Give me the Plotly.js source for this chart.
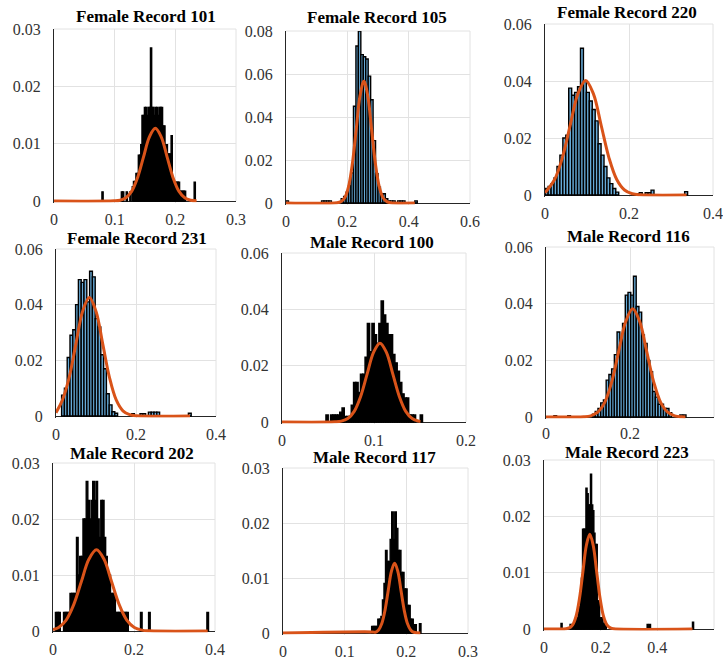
<!DOCTYPE html>
<html><head><meta charset="utf-8">
<script src="https://cdn.plot.ly/plotly-3.0.1.min.js"></script>
<style>html,body{margin:0;padding:0;background:#fff;} #chart{width:723px;height:663px;}</style>
</head><body><div id="chart"></div>
<script>
// ---------- DATA ----------
const titles = ["Female Record 101","Female Record 105","Female Record 220",
                "Female Record 231","Male Record 100","Male Record 116",
                "Male Record 202","Male Record 117","Male Record 223"];

const xMax  = [0.3, 0.6, 0.4, 0.4, 0.2, 0.4, 0.4, 0.3, 0.6];
const yMax  = [0.03, 0.08, 0.06, 0.06, 0.06, 0.06, 0.03, 0.03, 0.03];
const xStep = [0.1, 0.2, 0.2, 0.2, 0.1, 0.2, 0.2, 0.1, 0.2];
const yStep = [0.01, 0.02, 0.02, 0.02, 0.02, 0.02, 0.01, 0.01, 0.01];
const binWidth = [0.002, 0.008, 0.007, 0.007, 0.0025, 0.0065, 0.004, 0.0025, 0.004];

// Female Record 101
const binsF101 = [0.080,0.112,0.114,0.120,0.126,0.130,0.132,0.134,0.136,0.138,0.140,0.142,0.144,0.146,0.148,0.150,0.152,0.154,0.156,0.158,0.160,0.162,0.164,0.166,0.168,0.170,0.172,0.174,0.176,0.178,0.180,0.182,0.184,0.186,0.188,0.190,0.192,0.194,0.196,0.198,0.200,0.202,0.204,0.206,0.208,0.210,0.212,0.214,0.216,0.232];
const probF101 = [0.0016,0.0016,0.0016,0.0016,0.0016,0.0025,0.0034,0.0034,0.0048,0.0048,0.0080,0.0080,0.0098,0.0149,0.0149,0.0163,0.0163,0.0149,0.0163,0.0163,0.0267,0.0163,0.0163,0.0149,0.0163,0.0163,0.0149,0.0163,0.0163,0.0163,0.0131,0.0131,0.0098,0.0098,0.0082,0.0082,0.0082,0.0114,0.0033,0.0033,0.0033,0.0033,0.0033,0.0033,0.0017,0.0017,0.0017,0.0017,0.0017,0.0033];
const fitXF101 = [0,0.0991,0.1088,0.1185,0.1282,0.1379,0.1476,0.1573,0.167,0.1767,0.1864,0.1961,0.2058,0.2155,0.2252,0.235];
const fitYF101 = [0,0.00003,0.00014,0.00056,0.00172,0.00412,0.0077,0.0112,0.0127,0.0112,0.0077,0.00412,0.00172,0.00056,0.00014,0.00003];

// Female Record 105
const binsF105 = [0.004,0.120,0.128,0.136,0.144,0.184,0.192,0.200,0.208,0.216,0.224,0.232,0.240,0.248,0.256,0.264,0.272,0.280,0.288,0.296,0.304,0.312,0.320,0.328,0.336,0.344,0.352,0.368,0.376,0.384,0.424];
const probF105 = [0.001,0.001,0.001,0.001,0.001,0.002,0.003,0.005,0.008,0.014,0.045,0.073,0.080,0.069,0.068,0.067,0.059,0.048,0.029,0.0136,0.0074,0.0043,0.0043,0.002,0.001,0.001,0.001,0.001,0.001,0.001,0.001];
const fitXF105 = [0,0.1665,0.179,0.1915,0.204,0.2165,0.229,0.2415,0.254,0.2665,0.279,0.2915,0.304,0.3165,0.329,0.3415,0.42];
const fitYF105 = [0,0.00012,0.00063,0.00248,0.00766,0.01838,0.03433,0.04995,0.0566,0.04995,0.03433,0.01838,0.00766,0.00248,0.00063,0.00012,0];

// Female Record 220
const binsF220 = [0.004,0.011,0.018,0.025,0.032,0.039,0.046,0.053,0.060,0.067,0.074,0.081,0.088,0.095,0.102,0.109,0.116,0.123,0.130,0.137,0.144,0.151,0.158,0.165,0.172,0.214,0.221,0.228,0.242,0.249,0.256,0.336];
const probF220 = [0.0023,0.003,0.004,0.006,0.010,0.014,0.020,0.021,0.0375,0.035,0.036,0.038,0.0515,0.040,0.036,0.033,0.030,0.026,0.018,0.014,0.010,0.006,0.004,0.0023,0.001,0.0005,0.0005,0.0008,0.0008,0.0008,0.0017,0.0012];
const fitXF220 = [0,0.0228,0.0413,0.0598,0.0783,0.0968,0.1153,0.1338,0.1523,0.1708,0.1893,0.2078,0.2263,0.337];
const fitYF220 = [0.0008,0.00544,0.01305,0.02438,0.03548,0.0402,0.03548,0.02438,0.01305,0.00544,0.00176,0.00045,0.00009,0];

// Female Record 231
const binsF231 = [0.0175,0.0245,0.0315,0.0385,0.0455,0.0525,0.0595,0.0665,0.0735,0.0805,0.0875,0.0945,0.1015,0.1085,0.1155,0.1225,0.1295,0.1365,0.1435,0.1505,0.1925,0.2135,0.2205,0.2345,0.2415,0.2485,0.2555,0.3345];
const probF231 = [0.0075,0.010,0.021,0.029,0.031,0.040,0.049,0.048,0.049,0.041,0.052,0.050,0.035,0.032,0.022,0.017,0.008,0.004,0.0015,0.001,0.0008,0.0008,0.0008,0.0014,0.0014,0.0014,0.0014,0.001];
const fitXF231 = [0,0.0161,0.0329,0.0497,0.0665,0.0833,0.1001,0.1169,0.1337,0.1505,0.1673,0.1841,0.2009,0.335];
const fitYF231 = [0.0012,0.00576,0.01383,0.02584,0.03759,0.0426,0.03759,0.02584,0.01383,0.00576,0.00187,0.00047,0.00009,0];

// Male Record 100
const binsM100 = [0.0490,0.0540,0.0565,0.0590,0.0615,0.0640,0.0665,0.0690,0.0715,0.0740,0.0765,0.0790,0.0815,0.0840,0.0865,0.0890,0.0915,0.0940,0.0965,0.0990,0.1015,0.1040,0.1065,0.1090,0.1115,0.1140,0.1165,0.1190,0.1215,0.1240,0.1265,0.1290,0.1315,0.1340,0.1365,0.1390,0.1415,0.1440,0.1515];
const probM100 = [0.0025,0.0025,0.0025,0.0025,0.0025,0.0035,0.005,0.002,0.002,0.002,0.006,0.014,0.014,0.0105,0.017,0.017,0.023,0.035,0.025,0.035,0.031,0.028,0.035,0.043,0.038,0.035,0.031,0.031,0.024,0.021,0.018,0.014,0.010,0.0085,0.0085,0.0025,0.0025,0.0025,0.0025];
const fitXM100 = [0,0.0575,0.0645,0.0715,0.0785,0.0855,0.0925,0.0995,0.1065,0.1135,0.1205,0.1275,0.1345,0.1415,0.1485,0.1505];
const fitYM100 = [0,0.00006,0.00031,0.00123,0.00379,0.00909,0.01698,0.02471,0.028,0.02471,0.01698,0.00909,0.00379,0.00123,0.00031,0.0002];

// Male Record 116
const binsM116 = [0.022,0.055,0.1140,0.1205,0.1270,0.1335,0.1400,0.1465,0.1530,0.1595,0.1660,0.1725,0.1790,0.1855,0.1920,0.1985,0.2050,0.2115,0.2180,0.2245,0.2310,0.2375,0.2440,0.2505,0.2570,0.2635,0.2700,0.2765,0.2830,0.2895,0.2960,0.3220,0.3300];
const probM116 = [0.0005,0.0005,0.001,0.002,0.003,0.005,0.006,0.013,0.015,0.017,0.022,0.030,0.027,0.033,0.043,0.044,0.043,0.0497,0.039,0.037,0.029,0.026,0.020,0.016,0.009,0.007,0.0045,0.0045,0.003,0.003,0.0015,0.0007,0.0007];
const fitXM116 = [0,0.0898,0.1065,0.1232,0.1398,0.1565,0.1731,0.1898,0.2064,0.2231,0.2397,0.2564,0.273,0.2897,0.3063,0.323,0.332];
const fitYM116 = [0,0.00008,0.00042,0.00168,0.00517,0.0124,0.02317,0.03371,0.0382,0.03371,0.02317,0.0124,0.00517,0.00168,0.00042,0.00008,0.00004];

// Male Record 202
const binsM202 = [0.008,0.012,0.016,0.028,0.032,0.036,0.040,0.044,0.048,0.052,0.056,0.060,0.064,0.068,0.072,0.076,0.080,0.084,0.088,0.092,0.096,0.100,0.104,0.108,0.112,0.116,0.120,0.124,0.128,0.132,0.136,0.140,0.144,0.148,0.152,0.156,0.160,0.164,0.168,0.172,0.176,0.180,0.184,0.218,0.238,0.382];
const probM202 = [0.0033,0.0033,0.0033,0.0033,0.0033,0.0033,0.0033,0.0067,0.0067,0.0067,0.0067,0.0167,0.01,0.0133,0.0133,0.02,0.02,0.0267,0.0233,0.02,0.0233,0.0267,0.0233,0.0267,0.02,0.0167,0.0233,0.0233,0.0167,0.0133,0.01,0.01,0.0067,0.0067,0.0067,0.0033,0.0033,0.0033,0.0033,0.0033,0.0033,0.0033,0.0033,0.0033,0.0033,0.0033];
const fitXM202 = [0,0.0138,0.0325,0.0512,0.0699,0.0886,0.1073,0.126,0.1447,0.1634,0.1821,0.2008,0.2195,0.2382,0.382];
const fitYM202 = [0.00024,0.00064,0.00196,0.00471,0.00879,0.0128,0.0145,0.0128,0.00879,0.00471,0.00196,0.00064,0.00016,0.00003,0];

// Male Record 117
const binsM117 = [0.1450,0.1475,0.1500,0.1525,0.1550,0.1575,0.1600,0.1625,0.1650,0.1675,0.1700,0.1725,0.1750,0.1775,0.1800,0.1825,0.1850,0.1875,0.1900,0.1925,0.1950,0.1975,0.2000,0.2025,0.2050,0.2075,0.2100,0.2125,0.2150,0.2225];
const probM117 = [0.0012,0.0012,0.0012,0.0012,0.0025,0.0025,0.003,0.006,0.009,0.015,0.013,0.013,0.017,0.022,0.017,0.022,0.019,0.015,0.015,0.011,0.011,0.008,0.008,0.005,0.005,0.0025,0.0025,0.0015,0.0015,0.0017];
const fitXM117 = [0,0.145,0.1498,0.155,0.1602,0.1654,0.1706,0.1758,0.181,0.1862,0.1914,0.1966,0.2018,0.207,0.2122,0.2227];
const fitYM117 = [0,0.0002,0.00014,0.00056,0.00172,0.00412,0.0077,0.01121,0.0127,0.01121,0.0077,0.00412,0.00172,0.00056,0.00014,0.00001];

// Male Record 223
const binsM223 = [0.062,0.094,0.102,0.110,0.114,0.118,0.122,0.126,0.130,0.134,0.138,0.142,0.146,0.150,0.154,0.158,0.162,0.166,0.170,0.174,0.178,0.182,0.186,0.190,0.194,0.198,0.202,0.206,0.210,0.214,0.218,0.366,0.374,0.526];
const probM223 = [0.001,0.0008,0.0008,0.0015,0.002,0.002,0.003,0.004,0.006,0.009,0.0177,0.0177,0.0177,0.025,0.024,0.022,0.022,0.0275,0.022,0.021,0.017,0.015,0.015,0.005,0.005,0.002,0.002,0.002,0.001,0.001,0.0008,0.0008,0.0008,0.0012];
const fitXM223 = [0,0.0769,0.089,0.1011,0.1132,0.1253,0.1374,0.1495,0.1616,0.1737,0.1858,0.1979,0.21,0.2221,0.2342,0.2463,0.524];
const fitYM223 = [0,0.00004,0.00019,0.00074,0.00227,0.00545,0.01019,0.01483,0.0168,0.01483,0.01019,0.00545,0.00227,0.00074,0.00019,0.00004,0];

const bins = [binsF101,binsF105,binsF220,binsF231,binsM100,binsM116,binsM202,binsM117,binsM223];
const probs = [probF101,probF105,probF220,probF231,probM100,probM116,probM202,probM117,probM223];
const fitX = [fitXF101,fitXF105,fitXF220,fitXF231,fitXM100,fitXM116,fitXM202,fitXM117,fitXM223];
const fitY = [fitYF101,fitYF105,fitYF220,fitYF231,fitYM100,fitYM116,fitYM202,fitYM117,fitYM223];

// ---------- LAYOUT / STYLE ----------
const W = 723, H = 663;
// plot boxes in px: [left, right, top, bottom]
const boxes = [[54,236,29,201],[286,470,31,203],[545,713,24,195],
               [56,216,249,416],[282,466,253,422],[546,714,247,417],
               [53,215,463,631],[283,468,468,633],[544,714,460,629]];
const titlePos = [[146,16],[377,17],[627,12],[137,238],[372,242],[628,236],[132,453],[374,457],[627,452]];
const xLabelGap = [5, 5, 5, 5, 5, 3, 5, 5, 5];
const barFill = ['#000000','#66AAD7','#66AAD7','#66AAD7','#000000','#66AAD7','#000000','#000000','#000000'];
const SERIF = 'Liberation Serif, Times New Roman, Times, serif';
function tf() { return {family: SERIF, size: 16, color: '#333333'}; }

const traces = [];
const layout = {width:W, height:H, margin:{l:0,r:0,t:0,b:0}, paper_bgcolor:'#ffffff',
  plot_bgcolor:'rgba(0,0,0,0)', showlegend:false, bargap:0, annotations:[], shapes:[],
  font:{family: SERIF, size:16, color:'#333333'}};

for (let i = 0; i < 9; i++) {
  const n = i === 0 ? '' : String(i + 1);
  const xa = 'x' + n, ya = 'y' + n;
  const [l, r, t, b] = boxes[i];
  const bb = b + 1.5;
  const eps = yMax[i] * 1.5 / (b - t);
  layout['xaxis' + n] = {domain:[l / W, r / W], anchor: ya, range:[0, xMax[i]], tick0:0, dtick:xStep[i],
    showgrid:true, gridcolor:'#e2e2e2', gridwidth:1, zeroline:false, showline:false, ticks:'',
    ticklabelstandoff:xLabelGap[i], tickfont:tf(), fixedrange:true};
  layout['yaxis' + n] = {domain:[1 - bb / H, 1 - t / H], anchor: xa, range:[-eps, yMax[i]], tick0:0, dtick:yStep[i],
    showgrid:true, gridcolor:'#e2e2e2', gridwidth:1, zeroline:true, zerolinecolor:'#262626', zerolinewidth:1,
    showline:true, linecolor:'#262626', linewidth:1, ticks:'', ticklabelstandoff:9,
    tickfont:tf(), fixedrange:true};
  // light frame on top and right (grid at the last ticks)
  layout.shapes.push({type:'line', xref:'paper', yref:'paper', x0:l / W, x1:r / W, y0:1 - t / H, y1:1 - t / H,
    line:{color:'#e2e2e2', width:1}, layer:'below'});
  layout.shapes.push({type:'line', xref:'paper', yref:'paper', x0:r / W, x1:r / W, y0:1 - t / H, y1:1 - b / H,
    line:{color:'#e2e2e2', width:1}, layer:'below'});
  traces.push({type:'bar', x:bins[i], y:probs[i], width:binWidth[i], xaxis:xa, yaxis:ya,
    marker:{color:barFill[i], line:{color:'#000000', width:1.4}}, hoverinfo:'skip'});
  traces.push({type:'scatter', mode:'lines', x:fitX[i], y:fitY[i], xaxis:xa, yaxis:ya,
    line:{color:'#D95319', width:3, shape:'spline', smoothing:1}, hoverinfo:'skip'});
  layout.annotations.push({text:'<b>' + titles[i] + '</b>', xref:'paper', yref:'paper',
    x:titlePos[i][0] / W, y:1 - titlePos[i][1] / H, xanchor:'center', yanchor:'middle', showarrow:false,
    font:{family: SERIF, size:17, color:'#000000'}});
}

Plotly.newPlot('chart', traces, layout, {staticPlot:true, displayModeBar:false});
</script>
</body></html>
